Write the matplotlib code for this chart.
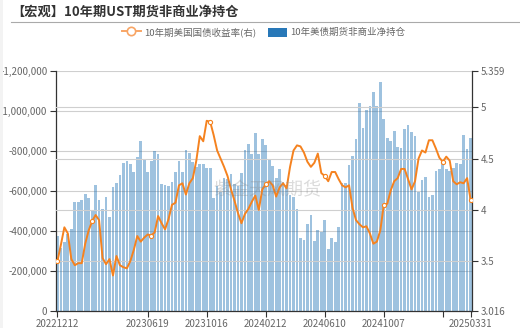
# UST 10y futures: non-commercial net position vs 10y treasury yield
import numpy as np
import matplotlib.pyplot as plt
from matplotlib.lines import Line2D
from matplotlib.patches import Patch, Rectangle
from matplotlib.ticker import FuncFormatter

plt.rcParams['font.family'] = ['Noto Sans CJK SC', 'DejaVu Sans']

# weekly net non-commercial position, thousand contracts (net short)
net_k = [
    -375, -315, -345, -383, -410, -545, -542, -553, -585, -562,
    -503, -628, -553, -508, -570, -470, -620, -638, -678, -740,
    -748, -732, -692, -770, -850, -752, -692, -748, -800, -782,
    -635, -628, -623, -643, -692, -747, -695, -803, -790, -745,
    -720, -732, -732, -712, -712, -565, -625, -595, -663, -660,
    -683, -633, -623, -687, -803, -832, -783, -890, -783, -858,
    -827, -757, -725, -665, -710, -643, -628, -578, -570, -507,
    -362, -353, -432, -478, -348, -402, -392, -452, -308, -365,
    -343, -420, -637, -640, -728, -773, -858, -1037, -912, -1003,
    -1023, -1092, -1025, -1142, -958, -863, -848, -900, -817, -815,
    -907, -928, -895, -873, -592, -653, -670, -567, -578, -698,
    -708, -748, -708, -698, -712, -737, -732, -878, -808, -862,
]
net_position = [v * 1000 for v in net_k]

# 10y US treasury yield (%), right axis
ust_yield = [
    3.50, 3.66, 3.83, 3.77, 3.52, 3.46, 3.48, 3.48, 3.67, 3.80,
    3.89, 3.95, 3.90, 3.53, 3.47, 3.52, 3.36, 3.55, 3.46, 3.44,
    3.43, 3.50, 3.61, 3.745, 3.69, 3.73, 3.76, 3.75, 3.78, 3.94,
    3.87, 3.81, 3.91, 4.05, 4.07, 4.24, 4.26, 4.15, 4.26, 4.31,
    4.48, 4.72, 4.67, 4.87, 4.86, 4.73, 4.58, 4.50, 4.42, 4.33,
    4.20, 4.09, 3.97, 3.87, 3.96, 4.01, 4.08, 4.14, 4.00, 4.20,
    4.25, 4.28, 4.24, 4.13, 4.22, 4.26, 4.21, 4.42, 4.58, 4.63,
    4.62, 4.56, 4.47, 4.42, 4.46, 4.55, 4.36, 4.33, 4.28, 4.37,
    4.37, 4.30, 4.24, 4.22, 4.24, 4.02, 3.90, 3.86, 3.83, 3.84,
    3.77, 3.67, 3.69, 3.80, 4.05, 4.06, 4.19, 4.28, 4.31, 4.40,
    4.40, 4.30, 4.20, 4.28, 4.50, 4.58, 4.56, 4.68, 4.68, 4.60,
    4.51, 4.47, 4.52, 4.48, 4.28, 4.25, 4.27, 4.26, 4.31, 4.10,
]

tick_idx = [0, 26, 43, 60, 77, 94, 111, 119]
tick_labels = ['20221212', '20230619', '20231016', '20240212',
               '20240610', '20241007', '', '20250331']
marker_idx = [0, 10, 27, 44, 60, 77, 94, 111, 119]

bar_color = '#2878b8'
line_color = '#f5821f'
axis_color = '#333333'
label_color = '#666666'
grid_color = '#cfcfcf'

fig = plt.figure(figsize=(5.2, 3.28), dpi=100)
fig.add_artist(Rectangle((0, 0), 3 / 520, 1, transform=fig.transFigure,
                         color='#f3f3f3', lw=0))

ax = fig.add_axes([0.1071, 0.0527, 0.8012, 0.7318])
x = np.arange(len(net_position))
ax.bar(x, net_position, width=0.78, color=bar_color, alpha=0.45, lw=0, zorder=2)
ax.set_xlim(-0.5, len(x) - 0.5)
ax.set_ylim(0, -1.2e6)
ax.set_yticks(np.arange(0, -1.2e6 - 1, -2e5))
ax.yaxis.set_major_formatter(FuncFormatter(lambda v, p: '0' if v == 0 else f'{v:,.0f}'))
ax.yaxis.grid(True, color=grid_color, lw=0.8, zorder=0)
ax.set_axisbelow(True)
ax.set_xticks(tick_idx)
ax.set_xticklabels(tick_labels)

ax2 = ax.twinx()
ax2.plot(x, ust_yield, color=line_color, lw=1.4, zorder=3)
ax2.plot(marker_idx, [ust_yield[i] for i in marker_idx], 'o', ms=3.0,
         mfc='white', mec=line_color, mew=0.8, zorder=4)
ax2.set_ylim(3.016, 5.359)
r_ticks = [3.016, 3.5, 4, 4.5, 5, 5.359]
ax2.set_yticks(r_ticks)
ax2.set_yticklabels(['3.016', '3.5', '4', '4.5', '5', '5.359'])
for v in r_ticks[1:-1]:
    ax2.axhline(v, color=grid_color, lw=0.8, zorder=0)

for a in (ax, ax2):
    a.spines['top'].set_visible(False)
    for s in a.spines.values():
        s.set_color(axis_color)
        s.set_linewidth(0.9)
    a.tick_params(length=4, width=0.8, color=axis_color, labelcolor=label_color,
                  labelsize=7, pad=2)
ax2.spines['left'].set_visible(False)
ax2.spines['bottom'].set_visible(False)
ax.spines['right'].set_visible(False)

# watermark
fig.text(0.513, 0.421, '紫金天风期货', fontsize=13, color='#888888', alpha=0.3,
         ha='center', va='center')

# title and rule
fig.text(0.022, 0.963, '【宏观】10年期UST期货非商业净持仓', fontsize=9.5,
         fontweight='bold', color='#333333', va='center')
fig.add_artist(Line2D([11 / 520, 1], [0.932, 0.932], color='#aaaaaa', lw=0.8))

handles = [
    Line2D([], [], color='#f8a565', lw=1.4, marker='o', ms=6, mfc='white',
           mec='#f8a565', mew=1.2),
    Patch(facecolor=bar_color, edgecolor='none'),
]
fig.legend(handles, ['10年期美国国债收益率(右)', '10年美债期货非商业净持仓'],
           loc='center', bbox_to_anchor=(0.507, 0.9015), ncol=2, frameon=False,
           fontsize=6.8, handlelength=2.0, handleheight=1.1, columnspacing=1.2,
           handletextpad=0.4, labelcolor=label_color)

plt.savefig('out.png', dpi=100)
